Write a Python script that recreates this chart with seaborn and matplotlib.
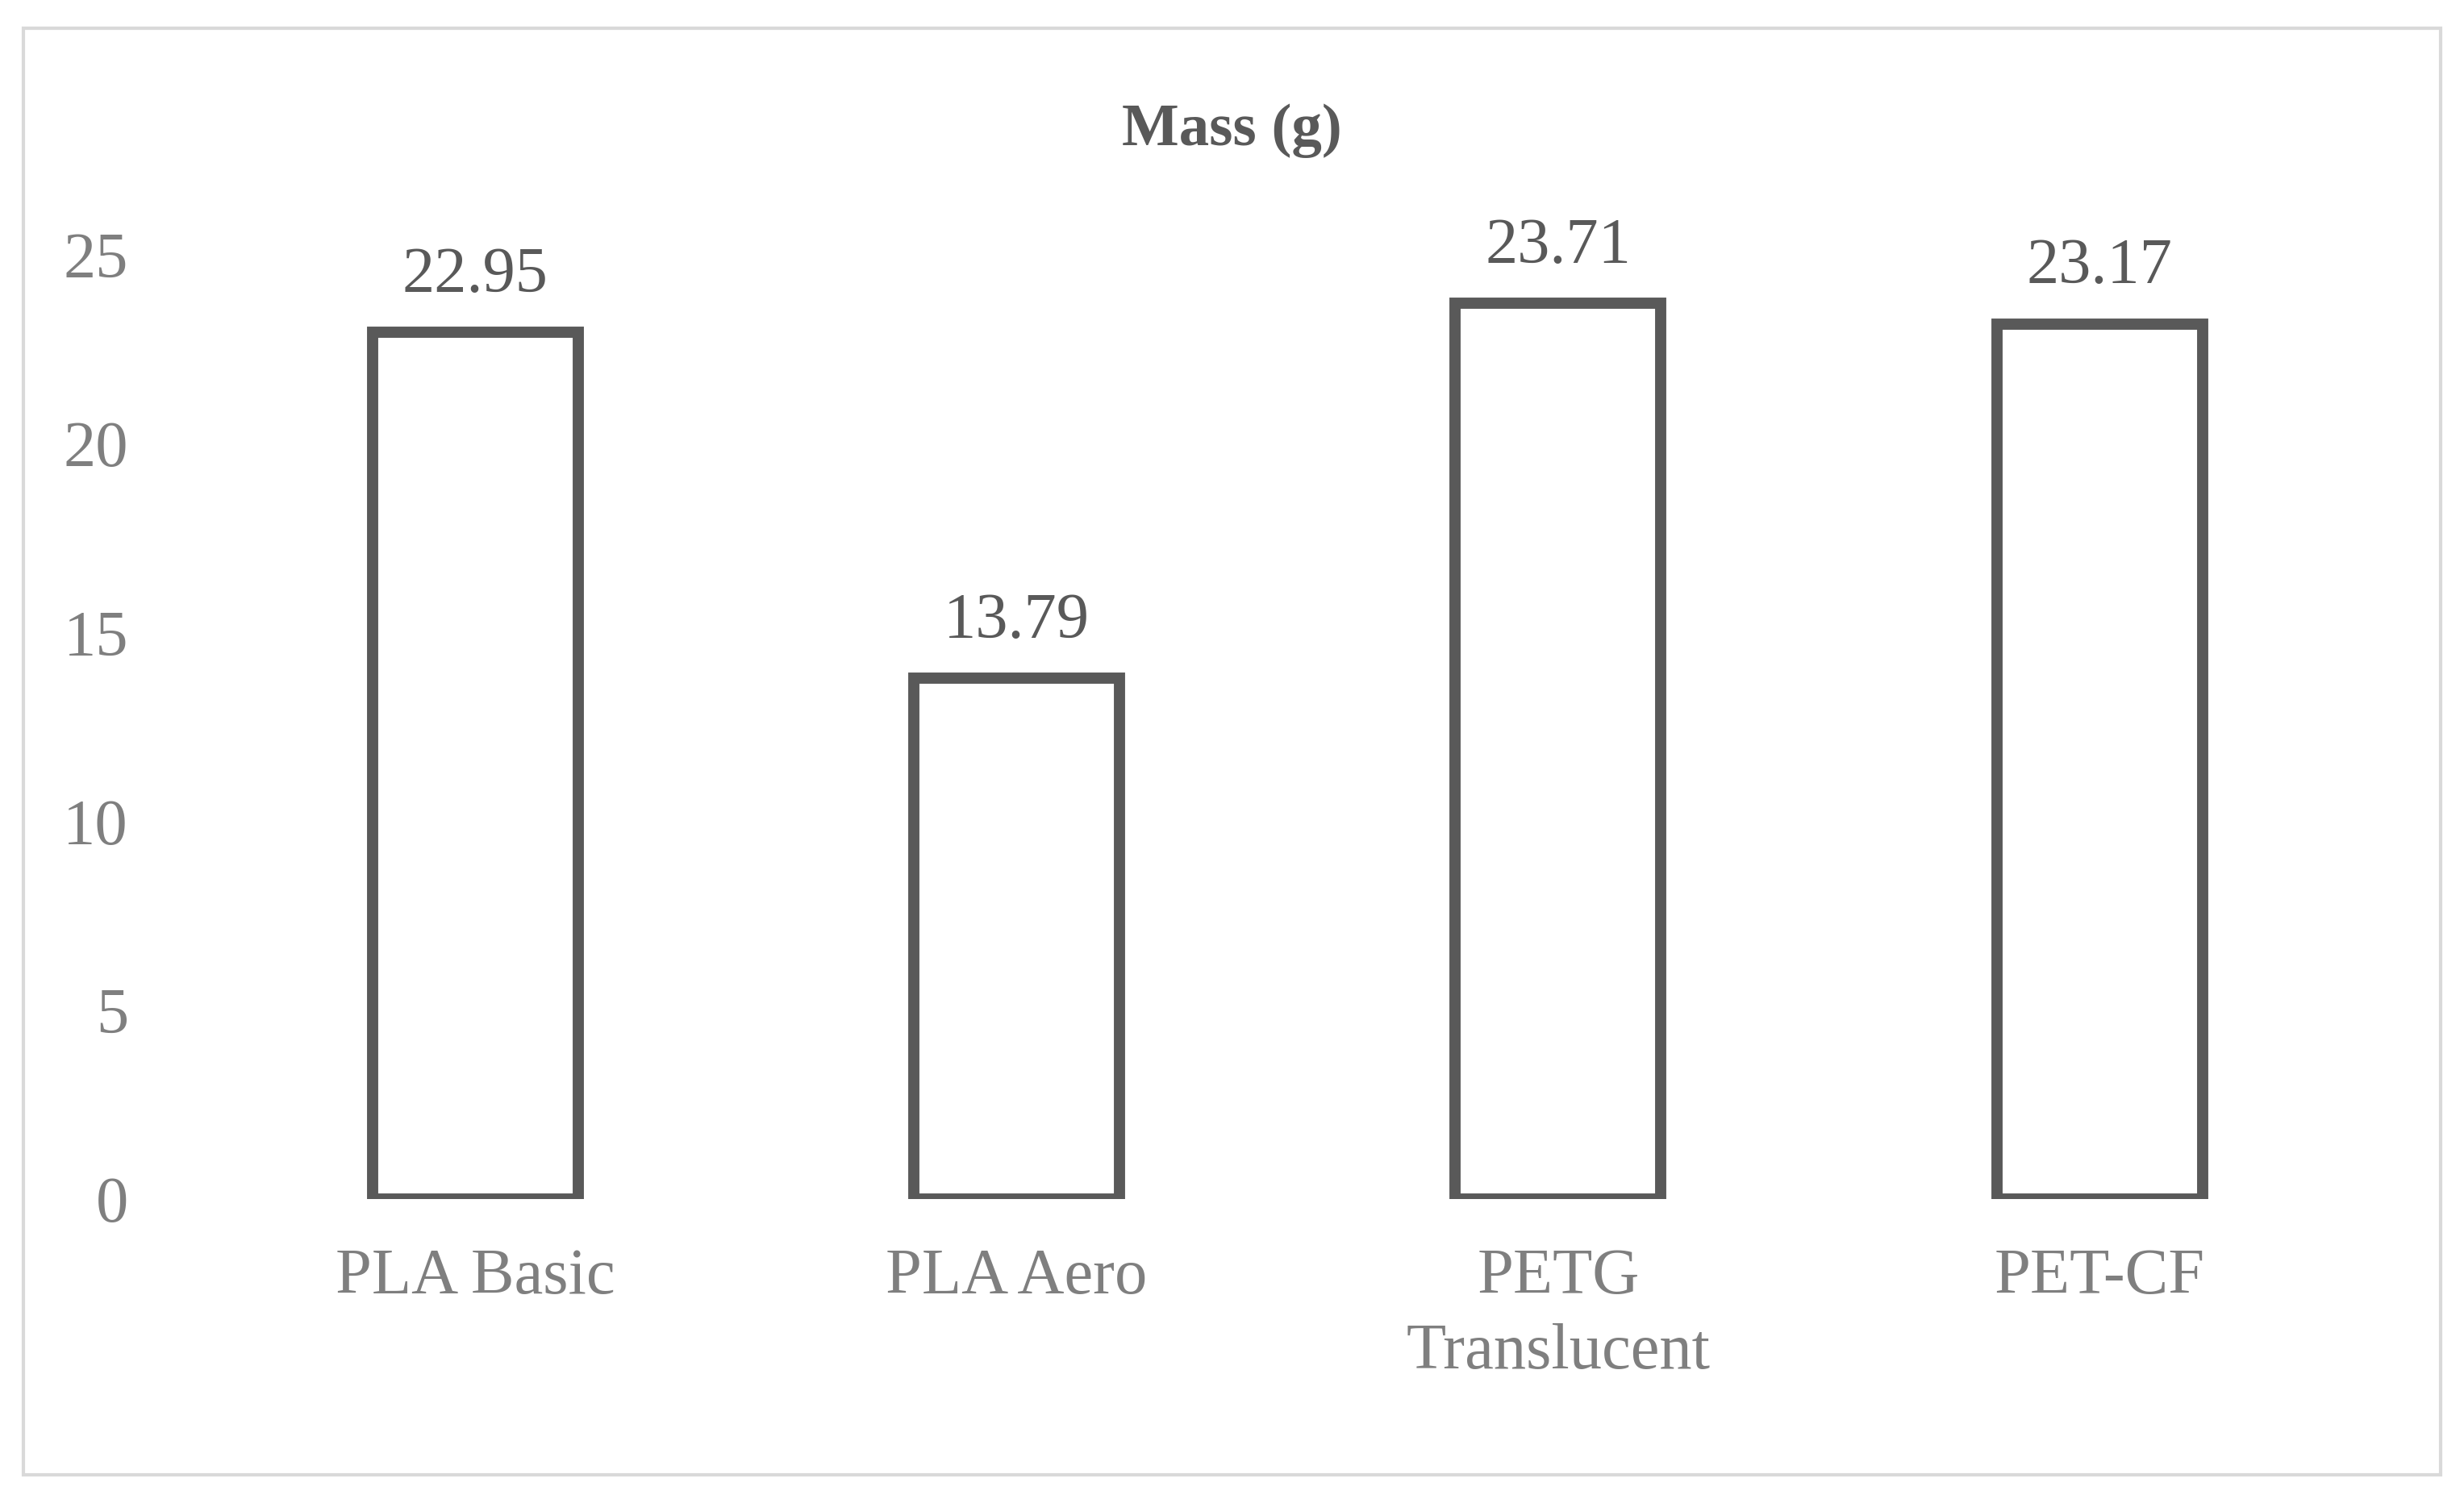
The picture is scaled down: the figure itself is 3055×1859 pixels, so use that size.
import matplotlib
matplotlib.use("Agg")
import matplotlib.pyplot as plt
import seaborn as sns
import pandas as pd
from matplotlib.patches import Rectangle

categories = ["PLA Basic", "PLA Aero", "PETG\nTranslucent", "PET-CF"]
values = [22.95, 13.79, 23.71, 23.17]
value_labels = ["22.95", "13.79", "23.71", "23.17"]

sns.set_theme(style="white")
plt.rcParams['font.family'] = ['Liberation Serif', 'DejaVu Serif']

fig = plt.figure(figsize=(15.275, 9.295), dpi=200)
ax = fig.add_axes([0.083, 0.2, 0.879, 0.63])
df = pd.DataFrame({"cat": categories, "val": values})
sns.barplot(data=df, x="cat", y="val", ax=ax, color="white", edgecolor="#595959",
            linewidth=5, width=0.38, saturation=1)
ax.set_ylim(0, 25)
ax.set_yticks([0, 5, 10, 15, 20, 25])
ax.set_xlabel("")
ax.set_ylabel("")
for s in ax.spines.values():
    s.set_visible(False)
ax.tick_params(axis="both", colors="#7f7f7f", labelsize=29, length=0)
ax.tick_params(axis="x", pad=22)
ax.tick_params(axis="y", pad=34)
for t in ax.get_xticklabels():
    t.set_linespacing(1.35)
ax.bar_label(ax.containers[0], labels=value_labels, padding=12, fontsize=29, color="#595959")
fig.text(0.5, 0.913, "Mass (g)", ha="center", va="center", fontsize=27,
         fontweight="bold", color="#595959")
fig.patches.append(Rectangle((0.0095, 0.016), 0.981, 0.965, transform=fig.transFigure,
                             fill=False, edgecolor="#d9d9d9", linewidth=1.5))
fig.savefig("out.png", dpi=200, facecolor="white")
